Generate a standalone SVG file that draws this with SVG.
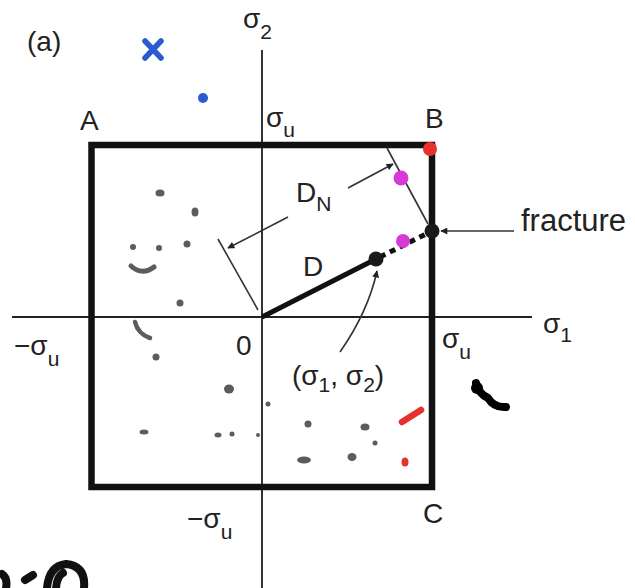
<svg xmlns="http://www.w3.org/2000/svg" width="635" height="588" viewBox="0 0 635 588">
<style>
text{font-family:"Liberation Sans",Arial,sans-serif;fill:#222;}
.lbl{font-size:28px;}
.sub{font-size:21px;}
.thin{stroke:#333;stroke-width:1.6;fill:none;}
.blob{fill:#5c5c5c;}
</style>
<defs>
<marker id="ah" viewBox="0 0 10 10" refX="9" refY="5" markerWidth="9" markerHeight="7" markerUnits="userSpaceOnUse" orient="auto">
<path d="M0,0 L10,5 L0,10 z" fill="#222"/>
</marker>
</defs>
<rect width="635" height="588" fill="#fff"/>
<g id="axes">
<line x1="262" y1="50" x2="262" y2="588" stroke="#333" stroke-width="2"/>
<line x1="12" y1="317" x2="532" y2="317" stroke="#222" stroke-width="2"/>
</g>
<g id="box">
<rect x="91.5" y="145" width="340.5" height="342" fill="none" stroke="#111" stroke-width="6.5"/>
</g>
<g id="connectors">
<line x1="262" y1="317" x2="376" y2="259" stroke="#111" stroke-width="5"/>
<line x1="380" y1="257" x2="428" y2="233" stroke="#111" stroke-width="5" stroke-dasharray="6,5"/>
<line class="thin" x1="387" y1="148" x2="428" y2="224"/>
<line class="thin" x1="218" y1="239" x2="258" y2="310"/>
<line class="thin" x1="348" y1="188" x2="393" y2="164" marker-end="url(#ah)"/>
<line class="thin" x1="288" y1="217" x2="228" y2="248" marker-end="url(#ah)"/>
<line class="thin" x1="514" y1="231" x2="441" y2="231" marker-end="url(#ah)"/>
<path class="thin" d="M340,352 Q368,312 377,271" marker-end="url(#ah)"/>
</g>
<g id="points">
<circle cx="376" cy="259" r="7.5" fill="#1a1a1a"/>
<circle cx="432" cy="231" r="7.5" fill="#1a1a1a"/>
<circle cx="401" cy="178" r="7.5" fill="#d63ad6"/>
<circle cx="403" cy="241" r="7" fill="#d63ad6"/>
<circle cx="430" cy="149" r="7" fill="#e8302c"/>
</g>
<g id="labels">
<text class="lbl" x="27" y="51">(a)</text>
<text class="lbl" x="243" y="28">σ<tspan class="sub" dy="11">2</tspan></text>
<text class="lbl" x="80" y="130">A</text>
<text class="lbl" x="266" y="127">σ<tspan class="sub" dy="10">u</tspan></text>
<text class="lbl" x="425" y="128">B</text>
<text class="lbl" x="296" y="202">D<tspan class="sub" dy="9">N</tspan></text>
<text class="lbl" x="303" y="276">D</text>
<text class="lbl" x="521" y="231" style="font-size:31px">fracture</text>
<text class="lbl" x="14" y="355">−σ<tspan class="sub" dy="11">u</tspan></text>
<text class="lbl" x="236" y="355">0</text>
<text class="lbl" x="442" y="348">σ<tspan class="sub" dy="11">u</tspan></text>
<text class="lbl" x="543" y="333">σ<tspan class="sub" dy="9">1</tspan></text>
<text class="lbl" x="292" y="385">(σ<tspan class="sub" dy="7">1</tspan><tspan dy="-7">, σ</tspan><tspan class="sub" dy="7">2</tspan><tspan dy="-7">)</tspan></text>
<text class="lbl" x="187" y="528">−σ<tspan class="sub" dy="11">u</tspan></text>
<text class="lbl" x="423" y="523">C</text>
</g>
<g id="marks">
<path d="M145,41 L161,58 M161,41 L145,58" stroke="#2a5bd0" stroke-width="5.5" stroke-linecap="round"/>
<circle cx="203" cy="98" r="5" fill="#2a5bd0"/>
<ellipse class="blob" cx="160" cy="193" rx="4.5" ry="3.5"/>
<ellipse class="blob" cx="195" cy="212" rx="3.5" ry="4.5"/>
<circle class="blob" cx="133" cy="247" r="3"/>
<circle class="blob" cx="159" cy="248" r="3"/>
<circle class="blob" cx="187" cy="244" r="3.5"/>
<path d="M131,266 Q142,276 154,267" stroke="#5c5c5c" stroke-width="5" fill="none" stroke-linecap="round"/>
<circle class="blob" cx="180" cy="303" r="3.5"/>
<path d="M135,322 Q138,334 150,338" stroke="#5c5c5c" stroke-width="4.5" fill="none" stroke-linecap="round"/>
<circle class="blob" cx="156" cy="357" r="3.5"/>
<ellipse class="blob" cx="229" cy="389" rx="5" ry="4.5"/>
<circle class="blob" cx="268" cy="404" r="2.5"/>
<ellipse class="blob" cx="144" cy="432" rx="4.5" ry="2.5"/>
<ellipse class="blob" cx="218" cy="435" rx="3.5" ry="2.5"/>
<circle class="blob" cx="232" cy="434" r="2.5"/>
<circle class="blob" cx="258" cy="435" r="2"/>
<ellipse class="blob" cx="308" cy="424" rx="3.5" ry="3.5"/>
<ellipse class="blob" cx="365" cy="427" rx="4.5" ry="3.5"/>
<circle class="blob" cx="375" cy="443" r="2.5"/>
<ellipse class="blob" cx="304" cy="460" rx="7" ry="3.5"/>
<ellipse class="blob" cx="352" cy="457" rx="4.5" ry="4"/>
<path d="M402,422 L421,410" stroke="#e8302c" stroke-width="6.5" stroke-linecap="round"/>
<ellipse cx="405" cy="462" rx="3.5" ry="4.5" fill="#e8302c"/>
<path d="M476,383 Q479,394 488,398 Q494,408 506,407" stroke="#000" stroke-width="8" fill="none" stroke-linecap="round" stroke-linejoin="round"/>
<circle cx="477" cy="388" r="6" fill="#000"/>
<path d="M2,574 Q8,578 6,588 M25,580 L33,575 M47,588 Q49,566 66,564 Q86,566 84,588 M56,588 Q57,576 63,573" stroke="#111" stroke-width="8" fill="none" stroke-linecap="round"/>
</g>
</svg>
